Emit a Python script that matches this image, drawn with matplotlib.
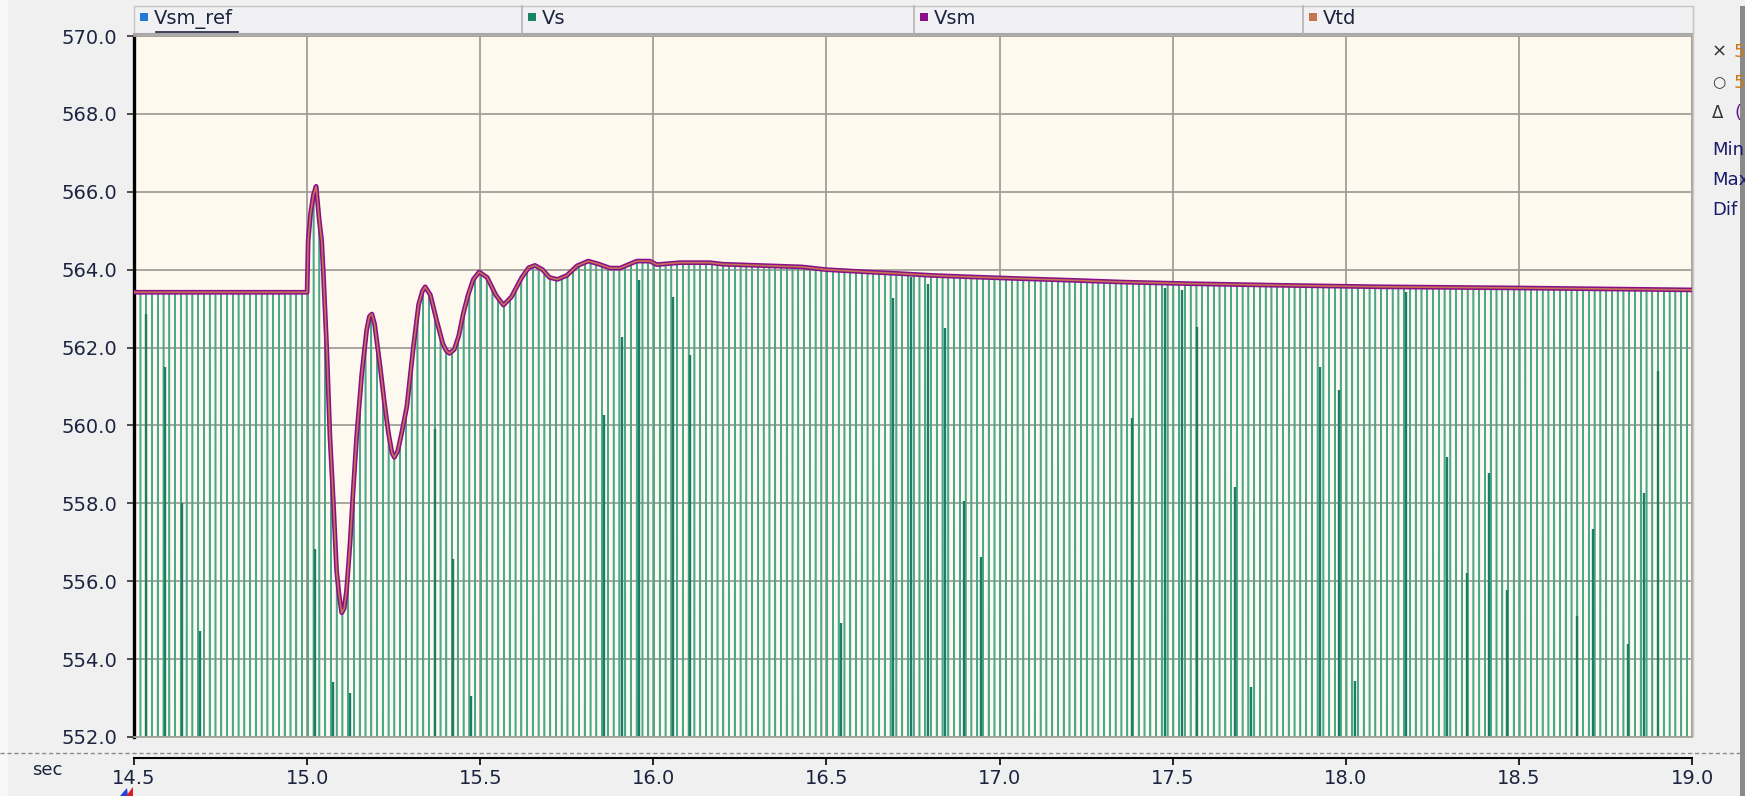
import numpy as np
import matplotlib
matplotlib.use("Agg")
import matplotlib.pyplot as plt
from matplotlib.patches import Rectangle, Polygon
from matplotlib.lines import Line2D

# Vsm envelope (sec, kV)
VSM_T = [14.50, 15.000, 15.003, 15.010, 15.018, 15.026, 15.035, 15.042, 15.047,
         15.057, 15.066, 15.076, 15.085, 15.093, 15.100, 15.107, 15.114, 15.124,
         15.132, 15.143, 15.158, 15.172, 15.180, 15.187, 15.195, 15.211, 15.223,
         15.235, 15.245, 15.252, 15.262, 15.273, 15.288, 15.307, 15.322, 15.333,
         15.341, 15.356, 15.374, 15.392, 15.402, 15.411, 15.425, 15.438, 15.451,
         15.465, 15.480, 15.497, 15.520, 15.545, 15.567, 15.590, 15.620, 15.640,
         15.658, 15.680, 15.700, 15.723, 15.750, 15.780, 15.812, 15.840, 15.875,
         15.904, 15.952, 15.990, 16.010, 16.077, 16.164, 16.200, 16.300, 16.430,
         16.500, 16.620, 16.710, 16.810, 16.930, 17.060, 17.200, 17.360, 17.550,
         17.800, 18.100, 18.500, 19.000]
VSM_V = [563.42, 563.42, 564.75, 565.44, 565.91, 566.14, 565.27, 564.75, 563.90,
         561.93, 559.70, 558.00, 556.29, 555.60, 555.19, 555.30, 555.77, 556.97,
         558.17, 559.71, 561.33, 562.45, 562.80, 562.86, 562.60, 561.50, 560.60,
         559.80, 559.30, 559.18, 559.35, 559.80, 560.48, 562.02, 563.10, 563.45,
         563.56, 563.35, 562.70, 562.10, 561.92, 561.85, 561.95, 562.30, 562.87,
         563.35, 563.75, 563.94, 563.80, 563.35, 563.09, 563.30, 563.80, 564.05,
         564.11, 564.00, 563.80, 563.75, 563.85, 564.10, 564.22, 564.15, 564.04,
         564.04, 564.22, 564.22, 564.13, 564.18, 564.18, 564.14, 564.11, 564.07,
         564.00, 563.94, 563.90, 563.85, 563.81, 563.77, 563.73, 563.68, 563.64,
         563.60, 563.56, 563.53, 563.48]
VTD_V = VSM_V  # Vtd sits right on top of Vsm
VS_FREQ = 60.0  # Vs is the instantaneous 60 Hz voltage, peaks follow Vsm

# darker Vs strokes (plot aliasing) : time, upper end of the dark part
VS_DARK_T = [14.534, 14.589, 14.640, 14.692, 15.023, 15.074, 15.124, 15.369,
             15.421, 15.473, 15.858, 15.909, 15.960, 16.056, 16.106, 16.543,
             16.693, 16.743, 16.792, 16.842, 16.897, 16.945, 17.382, 17.478,
             17.526, 17.569, 17.681, 17.726, 17.925, 17.979, 18.028, 18.173,
             18.292, 18.350, 18.414, 18.466, 18.668, 18.713, 18.816, 18.861,
             18.903]
VS_DARK_TOP = [562.86, 561.49, 558.00, 554.72, 556.84, 553.40, 553.14, 559.90,
               556.56, 553.05, 560.26, 562.26, 563.73, 563.30, 561.80, 554.92,
               563.26, 563.81, 563.64, 562.49, 558.06, 556.63, 560.20, 563.53,
               563.49, 562.54, 558.43, 553.29, 561.49, 560.91, 553.43, 563.43,
               559.20, 556.20, 558.77, 555.77, 555.11, 557.34, 554.40, 558.26,
               561.40]

SERIES = ["Vsm_ref", "Vs", "Vsm", "Vtd"]
SERIES_COLORS = ["#1f78d8", "#1b8466", "#8a0d8a", "#c47452"]
Y_TICKS = [552, 554, 556, 558, 560, 562, 564, 566, 568, 570]
X_TICKS = [14.5, 15.0, 15.5, 16.0, 16.5, 17.0, 17.5, 18.0, 18.5, 19.0]

W, H = 1745, 796
TXT = "#1c2440"


def fx(px):
    return px / W


def fy(py):
    return 1 - py / H


fig = plt.figure(figsize=(W / 100, H / 100), dpi=100)
fig.patch.set_facecolor("#f0f0f0")

# main plot area
ax = fig.add_axes([fx(134), fy(737), fx(1692 - 134), (737 - 36) / H])
ax.set_facecolor("#fef9ee")

t = np.arange(14.5, 19.0, 1e-4)
env = np.interp(t, VSM_T, VSM_V)
vs = env * np.cos(2 * np.pi * VS_FREQ * (t - 14.502))
ax.plot(t, vs, color="#4aa88d", lw=1.1, zorder=2)
ax.vlines(VS_DARK_T, 551, VS_DARK_TOP, color="#1a7e64", lw=1.7, zorder=2.5)
ax.plot(VSM_T, VSM_V, color=SERIES_COLORS[0], lw=1.0, zorder=3)
ax.plot(VSM_T, VSM_V, color=SERIES_COLORS[2], lw=3.4, zorder=4)
ax.plot(VSM_T, VTD_V, color=SERIES_COLORS[3], lw=1.2, zorder=5)

ax.set_xlim(14.5, 19.0)
ax.set_ylim(552, 570)
ax.set_xticks(X_TICKS)
ax.set_yticks(Y_TICKS)
ax.set_yticklabels([f"{v:.1f}" for v in Y_TICKS])
ax.grid(True, color="#a39f98", lw=1.3, zorder=1)
ax.set_axisbelow(True)
ax.tick_params(axis="x", length=0, labelbottom=False)
ax.tick_params(axis="y", direction="out", length=5, width=1.1, color="#202020",
               labelsize=14, labelcolor=TXT, pad=7)
for s in ["top", "right", "bottom"]:
    ax.spines[s].set_color("#a8a49c")
    ax.spines[s].set_linewidth(1.3)
ax.spines["left"].set_color("black")
ax.spines["left"].set_linewidth(2.4)

# time axis below
axx = fig.add_axes([fx(134), fy(758), fx(1692 - 134), 0.001])
axx.set_xlim(14.5, 19.0)
axx.patch.set_visible(False)
for s in ["top", "right", "left"]:
    axx.spines[s].set_visible(False)
axx.spines["bottom"].set_linewidth(1.5)
axx.set_yticks([])
axx.set_xticks(X_TICKS)
axx.set_xticklabels([f"{v:.1f}" for v in X_TICKS])
axx.tick_params(axis="x", direction="out", length=5, width=1.2,
                labelsize=14, labelcolor=TXT, pad=3)
fig.text(fx(47), fy(770), "sec", fontsize=13, color=TXT, ha="center", va="center")
fig.add_artist(Line2D([0, 1], [fy(753), fy(753)], color="#8c8c8c", lw=1.0,
                      ls=(0, (3, 2))))

# legend header bar
fig.add_artist(Rectangle((fx(134), fy(34)), fx(1693 - 134), 28 / H,
                         facecolor="#f1f1f3", edgecolor="#c4c4c4", lw=1.0))
fig.add_artist(Line2D([fx(134), fx(1693)], [fy(34), fy(34)], color="#a8a8a8", lw=1.5))
cells = [134, 522, 914, 1303]
for i, name in enumerate(SERIES):
    x0 = cells[i]
    if i > 0:
        fig.add_artist(Line2D([fx(x0), fx(x0)], [fy(6), fy(34)], color="#b4b4b4", lw=1.2))
    fig.add_artist(Rectangle((fx(x0 + 6), fy(21)), 8 / W, 8 / H,
                             facecolor=SERIES_COLORS[i], edgecolor="none"))
    fig.text(fx(x0 + 20), fy(19), name, fontsize=14, color=TXT, va="center", ha="left")
fig.add_artist(Line2D([fx(156), fx(238)], [fy(32), fy(32)], color=TXT, lw=1.2))
fig.add_artist(Line2D([fx(1693), fx(1693)], [fy(6), fy(796 - 60)], color="#c8c8c8", lw=1.0))

# cursor readout panel on the right, cut off by the window edge
fig.text(fx(1712), fy(52), "×", fontsize=13, color="#333333", va="center")
fig.text(fx(1734), fy(52), "5", fontsize=13, color="#c87a1a", va="center")
fig.text(fx(1712), fy(83), "○", fontsize=11, color="#333333", va="center")
fig.text(fx(1734), fy(83), "5", fontsize=13, color="#c87a1a", va="center")
fig.text(fx(1712), fy(113), "Δ", fontsize=12, color="#333333", va="center")
fig.text(fx(1734), fy(113), "(", fontsize=13, color="#6a1a8a", va="center")
for yy, lab in [(150, "Min"), (180, "Max"), (210, "Dif")]:
    fig.text(fx(1712), fy(yy), lab, fontsize=13, color="#1a1a70", va="center")
fig.add_artist(Rectangle((fx(1740), 0), 5 / W, fy(6), facecolor="#8a8a8a",
                         edgecolor="none"))
fig.add_artist(Rectangle((0, 0), 8 / W, 1, facecolor="#f8f8f8", edgecolor="none"))

# little cursor markers under the first tick
fig.add_artist(Polygon([(fx(120), fy(796)), (fx(127), fy(788)), (fx(128), fy(796))],
                       closed=True, facecolor="#2040e0", edgecolor="none"))
fig.add_artist(Polygon([(fx(126), fy(796)), (fx(133), fy(787)), (fx(133), fy(796))],
                       closed=True, facecolor="#e02020", edgecolor="none"))

fig.savefig("out.png", dpi=100, facecolor=fig.get_facecolor())
